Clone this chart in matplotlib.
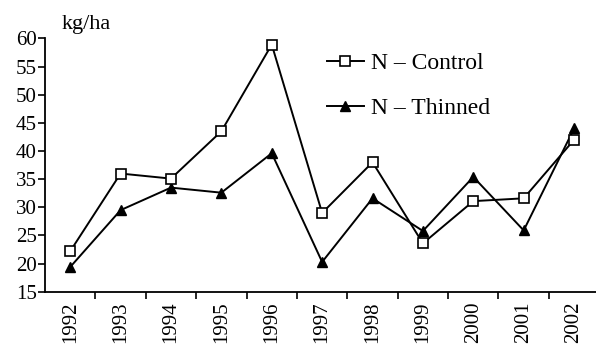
import matplotlib
matplotlib.use("Agg")
import matplotlib.pyplot as plt
import numpy as np

years = ["1992", "1993", "1994", "1995", "1996", "1997",
         "1998", "1999", "2000", "2001", "2002"]
n_control = [22.2, 36.0, 35.1, 43.5, 58.9, 29.0, 38.0, 23.6, 31.1, 31.6, 42.0]
n_thinned = [19.4, 29.5, 33.5, 32.6, 39.6, 20.3, 31.6, 25.8, 35.4, 25.9, 44.0]

plt.rcParams["font.family"] = ["Liberation Serif", "DejaVu Serif"]
plt.rcParams["font.size"] = 15

fig = plt.figure(figsize=(5.96, 3.52), dpi=100)
ax = fig.add_axes([0.0755, 0.171, 0.93, 0.72])

x = np.arange(len(years))
ax.plot(x, n_control, color="black", lw=1.4, marker="s", ms=7,
        mfc="white", mec="black", mew=1.2, label="N \u2013 Control", zorder=3)
ax.plot(x, n_thinned, color="black", lw=1.4, marker="^", ms=7.5,
        mfc="black", mec="black", label="N \u2013 Thinned", zorder=2)

ax.set_xlim(-0.5, 10.5)
ax.set_ylim(15, 60)
ax.set_yticks(range(15, 61, 5))

# labels sit under the years, tick marks between them
ax.set_xticks(x)
ax.set_xticklabels(years, rotation=90)
ax.set_xticks(np.arange(0.5, 10.5, 1), minor=True)
ax.tick_params(axis="x", which="major", length=0, pad=7)
ax.tick_params(axis="x", which="minor", length=5, width=1.2, direction="out")
ax.tick_params(axis="y", length=5, width=1.2, direction="out", pad=1)

for side in ("top", "right"):
    ax.spines[side].set_visible(False)
for side in ("left", "bottom"):
    ax.spines[side].set_linewidth(1.3)

fig.text(0.104, 0.93, "kg/ha", ha="left", va="center", fontsize=16)

ax.legend(loc="upper left", bbox_to_anchor=(0.548, 0.85),
          bbox_transform=fig.transFigure, frameon=False, borderpad=0,
          handlelength=1.6, handletextpad=0.3, labelspacing=1.0,
          borderaxespad=0, fontsize=17)

fig.savefig("out.png", dpi=100)
